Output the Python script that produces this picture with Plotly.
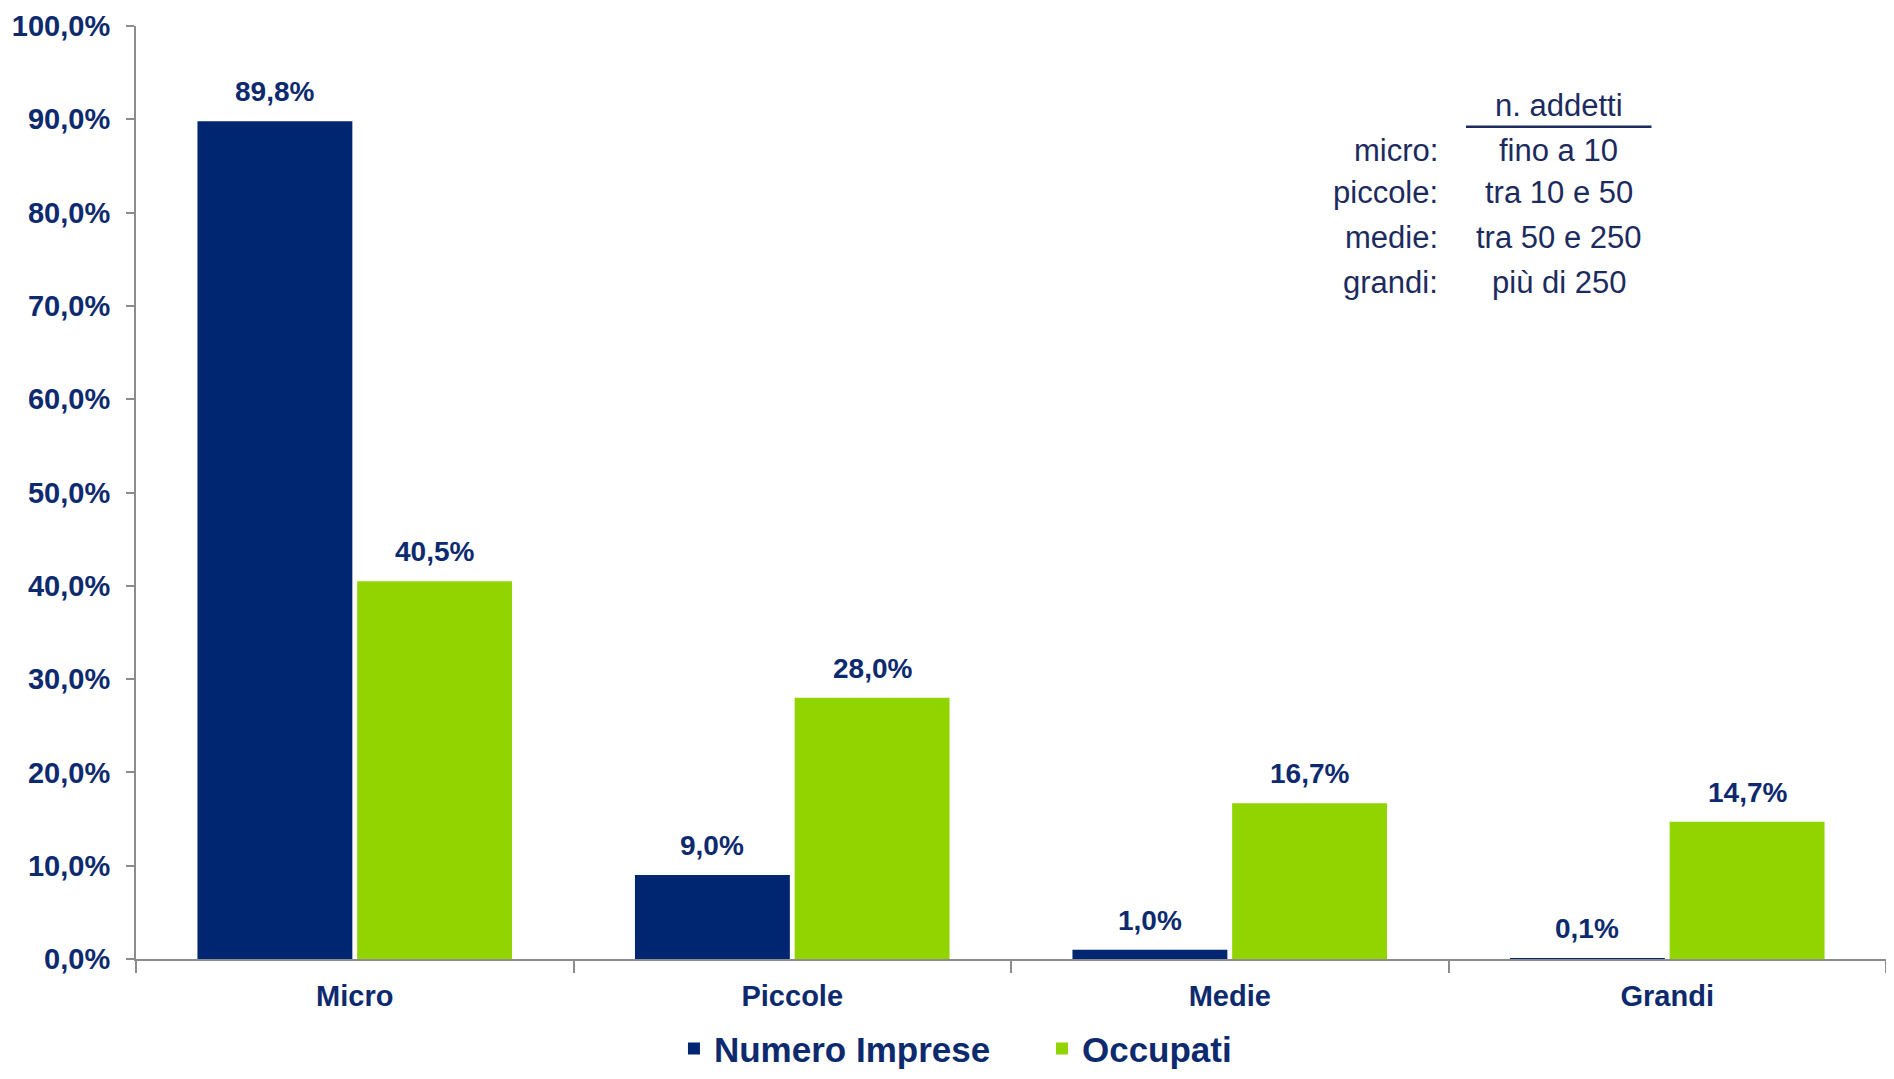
import plotly.graph_objects as go

categories = ["Micro", "Piccole", "Medie", "Grandi"]
numero_imprese = [89.8, 9.0, 1.0, 0.1]
occupati = [40.5, 28.0, 16.7, 14.7]
series_names = ["Numero Imprese", "Occupati"]
y_ticks = [0, 10, 20, 30, 40, 50, 60, 70, 80, 90, 100]
y_tick_labels = [f"{v:.1f}%".replace(".", ",") for v in y_ticks]

table_header = "n. addetti"
table_labels = ["micro:", "piccole:", "medie:", "grandi:"]
table_values = ["fino a 10", "tra 10 e 50", "tra 50 e 250", "più di 250"]

NAVY = "#002672"
GREEN = "#92D400"
TXT = "#0d2a6e"
TABLE_TXT = "#1c2b5e"
FONT = "Arial, Liberation Sans, sans-serif"

fig = go.Figure()
fig.add_trace(go.Bar(x=categories, y=numero_imprese, name=series_names[0],
                     marker=dict(color=NAVY, line=dict(width=0))))
fig.add_trace(go.Bar(x=categories, y=occupati, name=series_names[1],
                     marker=dict(color=GREEN, line=dict(width=0))))

annotations = []
for vals, shift in ((numero_imprese, -80), (occupati, 80)):
    for c, v in zip(categories, vals):
        annotations.append(dict(
            x=c, y=v, xref="x", yref="y", xshift=shift, yshift=12,
            text=f"{v:.1f}%".replace(".", ","), showarrow=False,
            yanchor="bottom", xanchor="center",
            font=dict(family=FONT, size=28, color=TXT, weight="bold")))

annotations.append(dict(x=0.813, y=0.915, xref="paper", yref="paper",
                        text=table_header, showarrow=False,
                        xanchor="center", yanchor="middle",
                        font=dict(family=FONT, size=31, color=TABLE_TXT)))
row_y = [0.867, 0.822, 0.773, 0.725]
for lab, val, yy in zip(table_labels, table_values, row_y):
    annotations.append(dict(x=0.745, y=yy, xref="paper", yref="paper",
                            text=lab, showarrow=False, xanchor="right", yanchor="middle",
                            font=dict(family=FONT, size=31, color=TABLE_TXT)))
    annotations.append(dict(x=0.813, y=yy, xref="paper", yref="paper",
                            text=val, showarrow=False, xanchor="center", yanchor="middle",
                            font=dict(family=FONT, size=31, color=TABLE_TXT)))

fig.update_layout(
    width=1878, height=1063,
    margin=dict(l=128, r=0, t=18, b=112, autoexpand=False),
    paper_bgcolor="white", plot_bgcolor="white",
    barmode="group", bargap=0.27, bargroupgap=0.03,
    font=dict(family=FONT, color=TXT),
    annotations=annotations,
    shapes=[dict(type="line", xref="paper", yref="paper",
                 x0=0.760, x1=0.866, y0=0.892, y1=0.892,
                 line=dict(color=TABLE_TXT, width=2.5))],
    legend=dict(orientation="h", x=0.3074, y=-0.0963, xanchor="left", yanchor="middle",
                font=dict(family=FONT, size=35, color=TXT, weight="bold"),
                itemwidth=30, entrywidth=323, traceorder="normal"),
    xaxis=dict(showline=True, linecolor="#8c8c8c", linewidth=2,
               ticks="outside", tickson="boundaries", ticklen=12, tickcolor="#8c8c8c",
               tickwidth=1.5, showgrid=False, ticklabelstandoff=10,
               tickfont=dict(family=FONT, size=29, color=TXT, weight="bold")),
    yaxis=dict(range=[0, 100], tickvals=y_ticks, ticktext=y_tick_labels,
               showline=True, linecolor="#8c8c8c", linewidth=2,
               ticks="outside", ticklen=8, tickcolor="#8c8c8c", tickwidth=2,
               showgrid=False, zeroline=False, ticklabelstandoff=10,
               ticklabeloverflow="allow",
               tickfont=dict(family=FONT, size=29, color=TXT, weight="bold")),
)

fig.write_html("out.html")
